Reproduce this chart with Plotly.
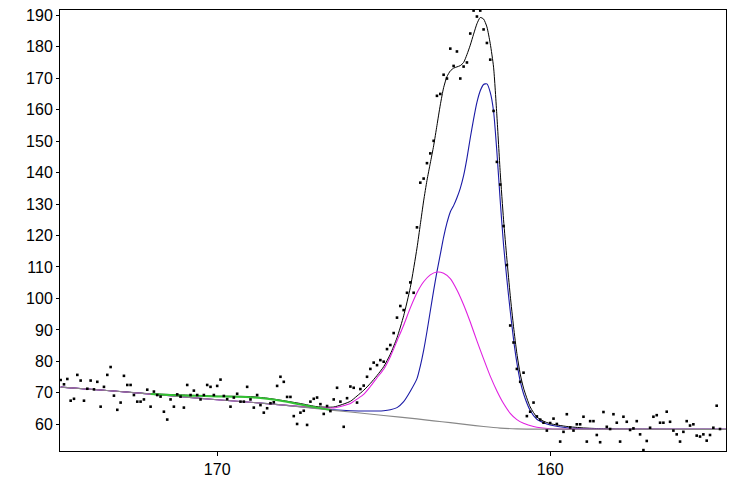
import plotly.graph_objects as go

# ---- measured data points (binding energy, counts) ----
be = [174.7, 174.6, 174.5, 174.4, 174.3, 174.2, 174.1, 174.0, 173.9, 173.8,
      173.7, 173.6, 173.5, 173.4, 173.3, 173.2, 173.1, 173.0, 172.9, 172.8,
      172.7, 172.6, 172.5, 172.4, 172.3, 172.2, 172.1, 172.0, 171.9, 171.8,
      171.7, 171.6, 171.5, 171.4, 171.3, 171.2, 171.1, 171.0, 170.9, 170.8,
      170.7, 170.6, 170.5, 170.4, 170.3, 170.2, 170.1, 170.0, 169.9, 169.8,
      169.7, 169.6, 169.5, 169.4, 169.3, 169.2, 169.1, 169.0, 168.9, 168.8,
      168.7, 168.6, 168.5, 168.4, 168.3, 168.2, 168.1, 168.0, 167.9, 167.8,
      167.7, 167.6, 167.5, 167.4, 167.3, 167.2, 167.1, 167.0, 166.9, 166.8,
      166.7, 166.6, 166.5, 166.4, 166.3, 166.2, 166.1, 166.0, 165.9, 165.8,
      165.7, 165.6, 165.5, 165.4, 165.3, 165.2, 165.1, 165.0, 164.9, 164.8,
      164.7, 164.6, 164.5, 164.4, 164.3, 164.2, 164.1, 164.0, 163.9, 163.8,
      163.7, 163.6, 163.5, 163.4, 163.3, 163.2, 163.1, 163.0, 162.9, 162.8,
      162.7, 162.6, 162.5, 162.4, 162.3, 162.2, 162.1, 162.0, 161.9, 161.8,
      161.7, 161.6, 161.5, 161.4, 161.3, 161.2, 161.1, 161.0, 160.9, 160.8,
      160.7, 160.6, 160.5, 160.4, 160.3, 160.2, 160.1, 160.0, 159.9, 159.8,
      159.7, 159.6, 159.5, 159.4, 159.3, 159.2, 159.1, 159.0, 158.9, 158.8,
      158.7, 158.6, 158.5, 158.4, 158.3, 158.2, 158.1, 158.0, 157.9, 157.8,
      157.7, 157.6, 157.5, 157.4, 157.3, 157.2, 157.1, 157.0, 156.9, 156.8,
      156.7, 156.6, 156.5, 156.4, 156.3, 156.2, 156.1, 156.0, 155.9, 155.8,
      155.7, 155.6, 155.5, 155.4, 155.3, 155.2, 155.1, 155.0, 154.9]
counts = [74.1, 72.7, 74.4, 67.5, 68.1, 75.7, 73.9, 67.5, 71.3, 73.9,
          71.1, 73.5, 65.6, 71.9, 75.7, 78.2, 69.1, 64.6, 66.9, 75.4,
          72.5, 72.5, 69.3, 67.2, 67.2, 67.9, 71.0, 65.6, 70.4, 69.3,
          68.8, 64.0, 61.5, 67.9, 65.6, 69.5, 68.8, 65.3, 72.5, 69.3,
          70.7, 69.3, 67.9, 69.3, 72.5, 71.9, 69.3, 72.2, 74.2, 69.0,
          68.0, 65.6, 68.5, 69.7, 67.2, 67.2, 71.9, 67.9, 65.3, 69.3,
          66.1, 63.7, 65.1, 66.7, 67.0, 72.2, 75.1, 73.5, 68.7, 68.7,
          62.6, 60.1, 63.7, 64.3, 59.8, 67.2, 68.1, 68.5, 66.4, 63.3,
          65.8, 64.2, 67.9, 71.6, 67.2, 59.2, 68.3, 72.0, 71.6, 66.9,
          71.2, 72.3, 75.1, 77.6, 79.6, 78.8, 80.4, 79.9, 83.9, 85.2,
          89.0, 93.9, 97.6, 96.3, 101.8, 105.1, 101.8, 122.6, 136.8, 138.1,
          143.0, 146.1, 150.1, 164.4, 165.0, 171.1, 169.9, 179.4, 173.9, 178.5,
          169.9, 173.7, 175.0, 184.2, 191.5, 189.6, 191.5, 185.5, 181.2, 175.9,
          159.6, 143.4, 136.2, 123.0, 110.6, 91.4, 86.0, 77.6, 73.5, 76.4,
          62.6, 64.0, 66.9, 62.5, 61.5, 60.5, 58.0, 60.4, 61.8, 60.1,
          54.5, 57.6, 63.2, 59.0, 58.0, 60.0, 60.0, 62.4, 54.5, 61.0,
          61.0, 56.6, 54.3, 63.9, 59.2, 58.5, 63.2, 60.5, 54.5, 62.4,
          60.8, 58.2, 58.7, 61.0, 56.8, 51.8, 54.7, 58.9, 62.4, 62.9,
          60.5, 60.5, 64.0, 60.8, 58.0, 56.8, 54.5, 57.6, 61.0, 59.6,
          60.0, 56.4, 56.1, 56.8, 54.8, 56.6, 58.9, 65.9, 58.5]

# ---- fit envelope (black) ----
env_x = [174.7, 173.0, 172.0, 171.5, 171.0, 170.5, 170.0, 169.5, 169.0, 168.5,
         168.0, 167.5, 167.0, 166.5, 166.0, 165.8, 165.6, 165.4, 165.2, 165.0,
         164.8, 164.6, 164.4, 164.2, 164.0, 163.9, 163.8, 163.7, 163.6, 163.5,
         163.4, 163.3, 163.2, 163.1, 163.0, 162.9, 162.8, 162.7, 162.6, 162.5,
         162.4, 162.3, 162.2, 162.1, 162.0, 161.9, 161.8, 161.7, 161.6, 161.5,
         161.4, 161.3, 161.2, 161.1, 161.0, 160.9, 160.8, 160.6, 160.4, 160.2,
         160.0, 159.5, 159.0, 158.5, 158.0, 157.0, 154.7]
env_y = [71.8, 70.5, 69.7, 69.5, 69.3, 69.1, 68.9, 68.9, 68.8, 68.3,
         67.5, 66.6, 65.6, 65.5, 67.3, 69.0, 70.8, 73.0, 75.5, 78.3,
         82.3, 87.5, 94.5, 103.5, 116.0, 123.5, 131.0, 137.5, 143.0, 148.5,
         155.0, 161.5, 167.0, 170.5, 172.3, 173.2, 173.6, 174.0, 175.0, 177.5,
         180.5, 184.0, 187.3, 189.3, 188.8, 186.3, 181.0, 173.5, 158.0, 140.0,
         125.0, 112.5, 101.0, 91.0, 82.5, 76.0, 71.5, 65.5, 62.3, 61.0,
         60.2, 59.3, 58.85, 58.6, 58.5, 58.45, 58.4]

# ---- component 1 (blue) ----
blue_x = [174.7, 173.5, 172.0, 171.0, 170.0, 169.0, 168.0, 167.0, 166.5, 166.0,
          165.5, 165.0, 164.8, 164.6, 164.4, 164.2, 164.0, 163.9, 163.8, 163.7,
          163.6, 163.5, 163.4, 163.3, 163.2, 163.1, 163.0, 162.9, 162.8, 162.7,
          162.6, 162.5, 162.4, 162.3, 162.2, 162.1, 162.0, 161.9, 161.8, 161.7,
          161.6, 161.5, 161.4, 161.3, 161.2, 161.1, 161.0, 160.9, 160.8, 160.6,
          160.4, 160.2, 160.0, 159.5, 159.0, 158.5, 158.0, 157.0, 154.7]
blue_y = [71.8, 70.9, 69.6, 68.7, 67.8, 67.0, 66.1, 65.1, 64.6, 64.3,
          64.2, 64.3, 64.6, 65.3, 67.2, 70.5, 74.5, 78.5, 83.5, 89.5,
          96.0, 102.5, 108.5, 114.0, 119.5, 124.0, 127.5, 129.5, 132.0, 135.0,
          139.0, 144.5, 151.0, 157.0, 162.3, 166.0, 168.0, 168.2, 165.5, 159.5,
          146.5, 131.0, 117.0, 106.0, 96.0, 87.0, 79.5, 73.7, 69.7, 64.4,
          61.6, 60.5, 59.8, 58.9, 58.6, 58.45, 58.4, 58.4, 58.4]

# ---- component 2 (magenta) ----
mag_x = [174.7, 173.5, 172.0, 171.0, 170.0, 169.0, 168.0, 167.0, 166.5, 166.0,
         165.8, 165.6, 165.4, 165.2, 165.0, 164.8, 164.6, 164.4, 164.2, 164.0,
         163.8, 163.6, 163.4, 163.2, 163.0, 162.8, 162.6, 162.4, 162.2, 162.0,
         161.8, 161.6, 161.4, 161.2, 161.0, 160.8, 160.5, 160.0, 159.5, 157.0,
         154.7]
mag_y = [71.8, 70.9, 69.6, 68.7, 67.8, 67.0, 66.1, 65.3, 65.2, 66.6,
         68.0, 69.5, 72.0, 74.8, 77.5, 81.5, 86.5, 91.5, 97.0, 101.8,
         105.3, 107.5, 108.4, 108.0, 106.3, 102.7, 98.0, 92.5, 86.5, 80.8,
         75.3, 70.6, 66.6, 63.5, 61.5, 60.3, 59.3, 58.6, 58.45, 58.4,
         58.4]

# ---- component 3 (green) ----
green_x = [172.0, 171.6, 171.2, 170.8, 170.4, 170.0, 169.5, 169.0, 168.5, 168.0,
           167.5, 167.0, 166.6]
green_y = [69.6, 69.4, 69.25, 69.1, 69.0, 68.85, 68.75, 68.6, 68.1, 67.3,
           66.3, 65.3, 64.6]

# ---- background (gray) ----
bg_x = [174.7, 173.5, 172.0, 171.0, 170.0, 169.0, 168.0, 167.0, 166.0, 165.0,
        164.0, 163.5, 163.0, 162.5, 162.0, 161.5, 161.0, 160.5, 154.7]
bg_y = [71.8, 70.9, 69.6, 68.7, 67.8, 67.0, 66.1, 65.0, 63.9, 62.8,
        61.7, 61.1, 60.5, 59.9, 59.3, 58.8, 58.55, 58.45, 58.4]

x_ticks = [170, 160]
y_ticks = [60, 70, 80, 90, 100, 110, 120, 130, 140, 150, 160, 170, 180, 190]

fig = go.Figure()
line_shape = dict(shape="spline", smoothing=0.6)
fig.add_trace(go.Scatter(x=env_x, y=env_y, mode="lines",
                         line=dict(color="#000000", width=1, **line_shape)))
fig.add_trace(go.Scatter(x=blue_x, y=blue_y, mode="lines",
                         line=dict(color="#1a1aa6", width=1.1, **line_shape)))
fig.add_trace(go.Scatter(x=mag_x, y=mag_y, mode="lines",
                         line=dict(color="#e020e0", width=1.1, **line_shape)))
fig.add_trace(go.Scatter(x=bg_x, y=bg_y, mode="lines",
                         line=dict(color="#888888", width=1.2, **line_shape)))
fig.add_trace(go.Scatter(x=green_x, y=green_y, mode="lines",
                         line=dict(color="#33c133", width=2, **line_shape)))
fig.add_trace(go.Scatter(x=be, y=counts, mode="markers",
                         marker=dict(symbol="square", size=2.6, color="#000000",
                                     line=dict(width=0))))

axis_font = dict(family="Liberation Sans, Arial, sans-serif", size=16, color="#000000")
# the page body adds an 8 px offset, so the figure is 8 px smaller than the window
fig.update_layout(
    width=728, height=471,
    margin=dict(l=52, r=10, t=2, b=28, pad=0, autoexpand=False),
    paper_bgcolor="white", plot_bgcolor="white",
    showlegend=False,
    font=axis_font,
)
fig.update_xaxes(range=[174.72, 154.72], tickmode="array", tickvals=x_ticks,
                 ticks="outside", ticklen=4, tickwidth=1, tickcolor="#000000",
                 showgrid=False, zeroline=False, showline=True, linecolor="#000000",
                 linewidth=1, mirror=True, tickfont=axis_font, automargin=False,
                 ticklabeloverflow="allow")
fig.update_yaxes(range=[51.51, 191.68], tickmode="array", tickvals=y_ticks,
                 ticks="outside", ticklen=3, tickwidth=1, tickcolor="#000000",
                 showgrid=False, zeroline=False, showline=True, linecolor="#000000",
                 linewidth=1, mirror=True, tickfont=axis_font, automargin=False,
                 ticklabeloverflow="allow")

fig.write_html("out.html")
